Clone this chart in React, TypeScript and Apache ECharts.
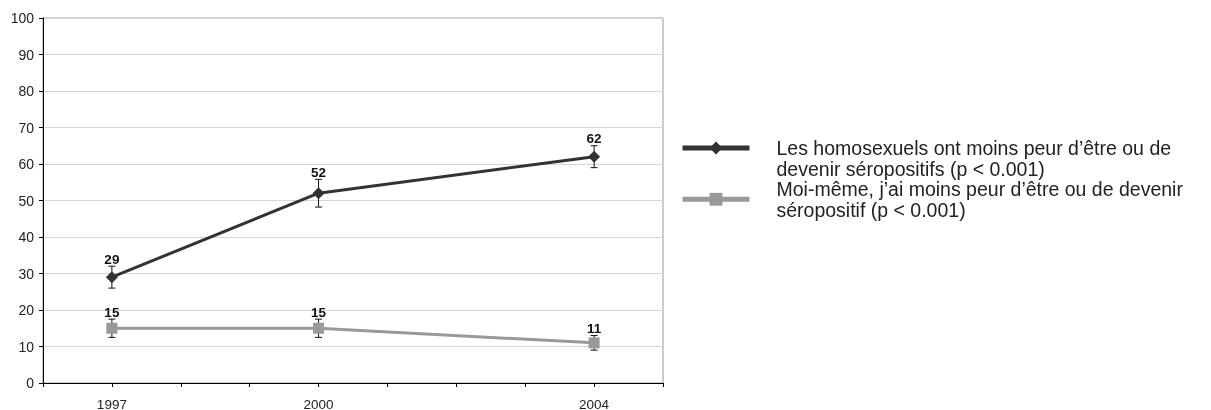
import React, { useEffect, useRef } from "react";
import * as echarts from "echarts";

const years = [1997, 2000, 2004];
const labelYears = [1997, 2000, 2004];
const seriesNames = [
  "Les homosexuels ont moins peur d’être ou de\ndevenir séropositifs (p < 0.001)",
  "Moi-même, j’ai moins peur d’être ou de devenir\nséropositif (p < 0.001)",
];
const homoValues = [29, 52, 62];
const homoErrors = [3, 3.8, 3];
const selfValues = [15, 15, 11];
const selfErrors = [2.5, 2.5, 2];
const yTicks = { min: 0, max: 100, interval: 10 };
const xRange = { min: 1996, max: 2005, interval: 1 };

const FONT = "'Liberation Sans', Arial, sans-serif";

function errData(vals: number[], errs: number[]) {
  return years.map((y, i) => [y, vals[i] - errs[i], vals[i] + errs[i], vals[i]]);
}

function renderErr(params: any, api: any) {
  const x = api.value(0);
  const lo = api.coord([x, api.value(1)]);
  const hi = api.coord([x, api.value(2)]);
  const cw = 3.5;
  return {
    type: "group",
    children: [
      { type: "line", shape: { x1: lo[0], y1: lo[1], x2: hi[0], y2: hi[1] }, style: { stroke: "#111", lineWidth: 1 } },
      { type: "line", shape: { x1: lo[0] - cw, y1: lo[1], x2: lo[0] + cw, y2: lo[1] }, style: { stroke: "#111", lineWidth: 1 } },
      { type: "line", shape: { x1: hi[0] - cw, y1: hi[1], x2: hi[0] + cw, y2: hi[1] }, style: { stroke: "#111", lineWidth: 1 } },
      {
        type: "text",
        x: hi[0],
        y: hi[1],
        z2: 10,
        style: {
          text: String(api.value(3)),
          align: "center",
          verticalAlign: "bottom",
          font: `bold 13.5px ${FONT}`,
          fill: "#111",
        },
      },
    ],
  };
}

export default function App() {
  const ref = useRef<HTMLDivElement>(null);
  useEffect(() => {
    if (!ref.current) return;
    const chart = echarts.init(ref.current, null, { renderer: "svg" });
    const legendBase = {
      orient: "vertical",
      left: 680,
      padding: 0,
      itemWidth: 67,
      itemHeight: 16,
      itemGap: 0,
      lineStyle: { width: 5 },
    };
    chart.setOption({
      animation: false,
      textStyle: { fontFamily: FONT },
      grid: {
        left: 43,
        top: 18,
        right: 548,
        bottom: 27,
        show: true,
        borderColor: "#999",
        borderWidth: 1,
        outerBoundsMode: "none",
      },
      legend: [
        {
          ...legendBase,
          top: 117.25,
          data: [seriesNames[0]],
          formatter: (name: string) => "\n" + name,
          textStyle: { fontSize: 19.5, lineHeight: 20.5, color: "#222", fontFamily: FONT, padding: [0, 0, 0, 22] },
        },
        {
          ...legendBase,
          top: 178.75,
          data: [seriesNames[1]],
          textStyle: { fontSize: 19.5, lineHeight: 20.5, color: "#222", fontFamily: FONT, padding: [0, 0, 0, 22] },
        },
      ],
      xAxis: {
        type: "value",
        min: xRange.min,
        max: xRange.max,
        interval: xRange.interval,
        splitLine: { show: false },
        axisLine: { lineStyle: { color: "#000", width: 1 } },
        axisTick: { length: 4, lineStyle: { color: "#000" } },
        axisLabel: {
          margin: 14,
          fontSize: 13.5,
          color: "#222",
          fontFamily: FONT,
          formatter: (v: number) => (labelYears.includes(v) ? String(v) : ""),
        },
      },
      yAxis: {
        type: "value",
        min: yTicks.min,
        max: yTicks.max,
        interval: yTicks.interval,
        splitLine: { lineStyle: { color: "#d6d6d6", width: 1 } },
        axisLine: { show: true, lineStyle: { color: "#000", width: 1 } },
        axisTick: { show: true, length: 4, lineStyle: { color: "#000" } },
        axisLabel: { margin: 9, fontSize: 14, color: "#222", fontFamily: FONT },
      },
      series: [
        {
          name: seriesNames[0],
          type: "line",
          data: years.map((y, i) => [y, homoValues[i]]),
          symbol: "diamond",
          symbolSize: 12,
          itemStyle: { color: "#333333" },
          lineStyle: { color: "#333333", width: 3 },
          z: 3,
        },
        {
          name: seriesNames[1],
          type: "line",
          data: years.map((y, i) => [y, selfValues[i]]),
          symbol: "rect",
          symbolSize: 11,
          itemStyle: { color: "#999999" },
          lineStyle: { color: "#999999", width: 3 },
          z: 3,
        },
        {
          name: "err1",
          type: "custom",
          data: errData(homoValues, homoErrors),
          renderItem: renderErr,
          encode: { x: 0, y: [1, 2] },
          z: 2,
        },
        {
          name: "err2",
          type: "custom",
          data: errData(selfValues, selfErrors),
          renderItem: renderErr,
          encode: { x: 0, y: [1, 2] },
          z: 2,
        },
      ],
    });
    return () => chart.dispose();
  }, []);
  return <div ref={ref} style={{ position: "fixed", left: 0, top: 0, width: 1211, height: 410 }} />;
}
